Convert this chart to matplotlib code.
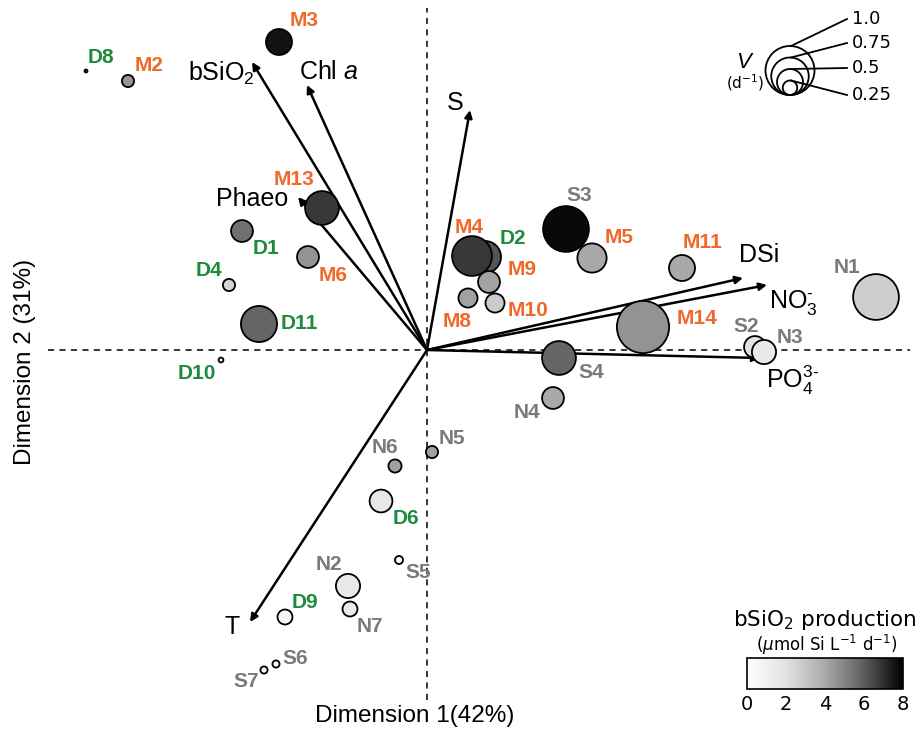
import matplotlib
matplotlib.use("Agg")
import matplotlib.pyplot as plt
from matplotlib.colors import LinearSegmentedColormap, Normalize
from matplotlib.cm import ScalarMappable
from matplotlib.patches import Circle
import numpy as np

plt.rcParams['mathtext.fontset'] = 'custom'
plt.rcParams['mathtext.rm'] = 'Liberation Sans'
plt.rcParams['mathtext.it'] = 'Liberation Sans:italic'
plt.rcParams['mathtext.bf'] = 'Liberation Sans:bold'

# ---------------- data ----------------
names = ["D8", "M2", "M3", "M13", "D1", "M6", "D4", "D11", "D10",
         "D2", "M4", "M9", "M8", "M10", "S3", "M5", "M11", "M14",
         "S2", "N3", "N1", "S4", "N4", "N5", "N6", "D6", "S5",
         "N2", "N7", "D9", "S6", "S7"]
dim1 = [-3.41, -2.99, -1.48, -1.05, -1.85, -1.19, -1.98, -1.68, -2.06,
        0.58, 0.45, 0.62, 0.41, 0.68, 1.39, 1.65, 2.55, 2.16,
        3.28, 3.37, 4.49, 1.32, 1.26, 0.05, -0.32, -0.46, -0.28,
        -0.79, -0.77, -1.42, -1.51, -1.63]
dim2 = [2.79, 2.69, 3.08, 1.42, 1.19, 0.93, 0.65, 0.26, -0.10,
        0.93, 0.94, 0.68, 0.52, 0.47, 1.21, 0.92, 0.82, 0.23,
        0.03, -0.02, 0.53, -0.08, -0.48, -1.02, -1.16, -1.51, -2.10,
        -2.36, -2.59, -2.67, -3.14, -3.20]
V = [0.00, 0.20, 0.50, 0.67, 0.41, 0.41, 0.20, 0.72, 0.04,
     0.63, 0.80, 0.41, 0.35, 0.35, 0.93, 0.57, 0.50, 1.07,
     0.41, 0.46, 0.93, 0.67, 0.41, 0.20, 0.22, 0.43, 0.11,
     0.46, 0.26, 0.26, 0.09, 0.09]
production = [6.0, 4.5, 7.6, 6.8, 5.5, 4.6, 2.5, 5.8, 1.0,
              6.2, 6.8, 4.2, 4.2, 2.8, 7.8, 4.0, 4.0, 4.6,
              2.0, 1.5, 2.7, 5.8, 4.0, 4.2, 4.2, 1.6, 0.2,
              1.6, 1.4, 0.6, 0.1, 0.1]

vectors = ["bSiO$_2$", "Chl $a$", "Phaeo", "S", "DSi", "NO$_3^{\\text{-}}$", "PO$_4^{3\\text{-}}$", "T"]
vec_x = [-1.75, -1.20, -1.29, 0.43, 3.16, 3.40, 3.33, -1.77]
vec_y = [2.88, 2.65, 1.53, 2.40, 0.72, 0.65, -0.08, -2.72]

legend_V = [1.0, 0.75, 0.5, 0.25]
cbar_ticks = [0, 2, 4, 6, 8]

# ---------------- layout ----------------
# label offsets in pixels (right, down)
label_off = {
    "D8": (15, -14), "M2": (21, -16), "M3": (25, -22), "M13": (-28, -29),
    "D1": (24, 17), "M6": (25, 18), "D4": (-20, -15), "D11": (40, -1),
    "D10": (-24, 13), "D2": (28, -19), "M4": (-3, -29), "M9": (33, -13),
    "M8": (-11, 23), "M10": (33, 7), "S3": (13, -34), "M5": (27, -21),
    "M11": (20, -26), "M14": (54, -9), "S2": (-9, -21), "N3": (26, -15),
    "N1": (-29, -30), "S4": (32, 14), "N4": (-26, 14), "N5": (20, -14),
    "N6": (-10, -19), "D6": (25, 17), "S5": (19, 12), "N2": (-19, -21),
    "N7": (20, 17), "D9": (20, -14), "S6": (19, -6), "S7": (-18, 11),
}
# vector label offsets from arrow tip in pixels (right, down)
vec_label_off = [(-31, 11), (22, -13), (-46, 2), (-15, -7),
                 (16, -23), (26, 17), (33, 22), (-18, 5)]

ORANGE = "#F0692A"
GREEN = "#1C8B3E"
GRAY = "#7A7A7A"

def label_color(n):
    if n.startswith("M"):
        return ORANGE
    if n.startswith("D"):
        return GREEN
    return GRAY

def radius_px(v):
    return 23.0 * v + 1.5

cmap = LinearSegmentedColormap.from_list(
    "bsio2", [(0.0, "#ffffff"), (0.25, "#e2e2e2"), (0.5, "#aaaaaa"),
              (0.75, "#5e5e5e"), (1.0, "#000000")])
norm = Normalize(0, 8)

W, H = 921, 731
fig = plt.figure(figsize=(W / 100, H / 100), dpi=100)

# main axes: 1 data unit = 100 px, origin at pixel (427, 350)
L, R, T_, B = 48, 910, 5, 700
ax = fig.add_axes([L / W, 1 - B / H, (R - L) / W, (B - T_) / H])
ax.set_xlim((L - 427) / 100, (R - 427) / 100)
ax.set_ylim((350 - B) / 100, (350 - T_) / 100)
ax.axis("off")

ax.axhline(0, color="black", lw=1.1, ls=(0, (4, 3.5)), zorder=1)
ax.plot([0, 0], [(350 - B) / 100, (350 - 8) / 100], color="black", lw=1.1,
        ls=(0, (4, 3.5)), zorder=1)

for lab, x, y, (ox, oy) in zip(vectors, vec_x, vec_y, vec_label_off):
    ax.annotate("", xy=(x, y), xytext=(0, 0),
                arrowprops=dict(arrowstyle="-|>", lw=1.8, color="black",
                                mutation_scale=11, shrinkA=0, shrinkB=0),
                zorder=2)
    ax.annotate(lab, xy=(x, y), xytext=(ox * 0.72, -oy * 0.72),
                textcoords="offset points", ha="center", va="center",
                fontsize=18, family="Liberation Sans", zorder=5)

sizes = [(2 * radius_px(v) * 0.72) ** 2 for v in V]
ax.scatter(dim1, dim2, s=sizes, c=production, cmap=cmap, norm=norm,
           edgecolors="black", linewidths=1.3, zorder=3)

for n, x, y in zip(names, dim1, dim2):
    ox, oy = label_off[n]
    ax.annotate(n, xy=(x, y), xytext=(ox * 0.72, -oy * 0.72),
                textcoords="offset points", ha="center", va="center",
                fontsize=15, fontweight="bold", family="Liberation Sans",
                color=label_color(n), zorder=4)

fig.text(415 / W, 1 - 716 / H, "Dimension 1(42%)", ha="center", va="center",
         fontsize=17.5, family="Liberation Sans")
fig.text(25 / W, 1 - 362 / H, "Dimension 2 (31%)", ha="center", va="center",
         rotation=90, fontsize=17.5, family="Liberation Sans")

# overlay axes in pixel coordinates for the size legend
ov = fig.add_axes([0, 0, 1, 1])
ov.set_xlim(0, W)
ov.set_ylim(H, 0)
ov.axis("off")
label_y = [19, 43, 68, 95]
for v, ly in zip(legend_V, label_y):
    r = radius_px(v)
    ov.add_patch(Circle((790, 95 - r), r, fill=False, ec="black", lw=1.3))
    top = 95 - 2 * r
    ov.plot([791, 847], [top, ly], color="black", lw=1.3)
    ov.text(852, ly, f"{v:g}" if v != 1.0 else "1.0", ha="left", va="center",
            fontsize=13, family="DejaVu Sans")
ov.text(745, 62, "$\\mathit{V}$", ha="center", va="center", fontsize=16)
ov.text(745, 83, "(d$^{-1}$)", ha="center", va="center", fontsize=11,
        family="DejaVu Sans", math_fontfamily="dejavusans")

# colorbar
cax = fig.add_axes([747 / W, 1 - 689 / H, 156 / W, 31 / H])
cb = fig.colorbar(ScalarMappable(norm=norm, cmap=cmap), cax=cax,
                  orientation="horizontal", ticks=cbar_ticks)
cb.outline.set_linewidth(1.2)
cax.tick_params(length=0, pad=4, labelsize=14)
for t in cax.get_xticklabels():
    t.set_family("DejaVu Sans")
fig.text(825 / W, 1 - 620 / H, "bSiO$_2$ production", ha="center", va="center",
         fontsize=15.5, family="DejaVu Sans", math_fontfamily="dejavusans")
fig.text(827 / W, 1 - 645 / H, "($\\mu$mol Si L$^{-1}$ d$^{-1}$)", ha="center",
         va="center", fontsize=12, family="DejaVu Sans",
         math_fontfamily="dejavusans")

fig.savefig("out.png", dpi=100)
